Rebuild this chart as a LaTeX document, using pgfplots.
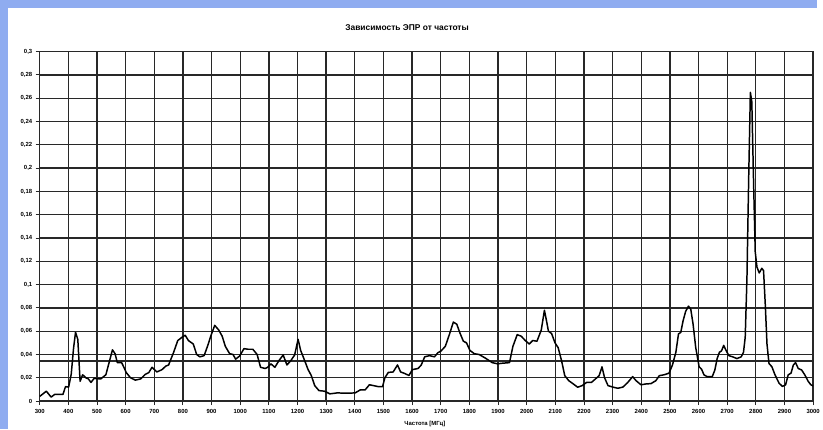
\documentclass[border=0pt]{standalone}
\usepackage{fontspec}
\setmainfont{Liberation Sans}
\usepackage{pgfplots}
\usepackage{pgfplotstable}
\pgfplotsset{compat=1.18}
\definecolor{bgblue}{RGB}{143,172,240}
\definecolor{gridc}{RGB}{40,40,40}
\pgfplotstableread{
f v
300 0.004
323 0.0085
340 0.0034
352 0.0057
381 0.0057
390 0.0124
401 0.012
410 0.023
418 0.045
425 0.059
433 0.053
441 0.017
450 0.0226
461 0.020
470 0.019
479 0.016
490 0.0195
513 0.019
531 0.0226
540 0.031
554 0.044
563 0.0407
571 0.033
586 0.033
594 0.029
602 0.0245
617 0.020
634 0.018
652 0.019
669 0.023
681 0.0245
692 0.029
709 0.025
727 0.027
740 0.030
750 0.031
767 0.0415
782 0.052
798 0.055
808 0.0565
819 0.052
836 0.049
848 0.040
859 0.038
874 0.039
888 0.0486
897 0.0557
911 0.065
925 0.061
937 0.0557
948 0.047
963 0.0407
975 0.040
984 0.036
998 0.0387
1013 0.045
1027 0.0445
1044 0.0445
1059 0.040
1071 0.029
1087 0.028
1096 0.029
1107 0.032
1121 0.029
1136 0.035
1150 0.0396
1163 0.031
1176 0.0345
1190 0.0396
1202 0.053
1211 0.0435
1223 0.036
1237 0.027
1248 0.022
1260 0.0133
1275 0.009
1294 0.0085
1313 0.0062
1338 0.007
1373 0.0068
1401 0.007
1419 0.0096
1436 0.0096
1451 0.014
1465 0.0133
1482 0.0124
1497 0.0124
1505 0.020
1517 0.0246
1534 0.025
1549 0.031
1560 0.025
1574 0.0237
1589 0.022
1601 0.027
1621 0.028
1632 0.031
1644 0.038
1661 0.039
1678 0.038
1690 0.0415
1701 0.043
1716 0.047
1730 0.057
1744 0.0678
1756 0.066
1767 0.0585
1779 0.0514
1790 0.050
1802 0.0435
1817 0.0407
1834 0.040
1857 0.0367
1880 0.033
1898 0.032
1915 0.0325
1940 0.033
1952 0.047
1967 0.057
1981 0.0557
1995 0.052
2009 0.049
2021 0.052
2036 0.0514
2051 0.061
2062 0.078
2070 0.068
2076 0.060
2087 0.058
2099 0.050
2110 0.0458
2122 0.0345
2133 0.0218
2147 0.0175
2163 0.0147
2178 0.0119
2194 0.0133
2209 0.016
2226 0.016
2240 0.019
2253 0.0218
2263 0.0294
2272 0.020
2284 0.0133
2301 0.012
2318 0.011
2336 0.012
2353 0.016
2370 0.021
2382 0.0175
2399 0.014
2416 0.0147
2434 0.015
2451 0.0175
2463 0.0218
2480 0.0226
2497 0.024
2509 0.031
2521 0.042
2530 0.0576
2538 0.059
2546 0.0688
2555 0.077
2565 0.0815
2573 0.0787
2581 0.066
2590 0.0463
2602 0.0295
2611 0.0272
2619 0.0225
2630 0.021
2648 0.021
2657 0.0267
2665 0.0365
2673 0.042
2680 0.043
2688 0.0478
2696 0.0435
2706 0.039
2719 0.038
2734 0.0365
2749 0.038
2757 0.042
2763 0.0548
2769 0.105
2775 0.19
2781 0.265
2786 0.257
2792 0.19
2798 0.128
2804 0.115
2812 0.11
2821 0.114
2827 0.112
2833 0.083
2839 0.049
2846 0.0323
2856 0.0295
2867 0.0225
2881 0.0154
2893 0.0126
2904 0.014
2913 0.0225
2923 0.024
2931 0.031
2939 0.033
2948 0.028
2960 0.0267
2971 0.0225
2983 0.0169
2992 0.014
3000 0.013
}\epr
\begin{document}
\begin{tikzpicture}[x=1bp,y=1bp]
\fill[bgblue] (0,0) rectangle (823,432);
\fill[white] (8,0) rectangle (823,424);
\begin{axis}[
  at={(40bp,28bp)}, anchor=south west, scale only axis,
  width=779bp, height=352bp,
  xmin=300, xmax=3000, ymin=0, ymax=0.3,
  xtick={300,400,...,3000},
  xticklabels={300,400,500,600,700,800,900,1000,1100,1200,1300,1400,1500,1600,1700,1800,1900,2000,2100,2200,2300,2400,2500,2600,2700,2800,2900,3000},
  ytick={0,0.02,0.04,0.06,0.08,0.1,0.12,0.14,0.16,0.18,0.2,0.22,0.24,0.26,0.28,0.3},
  yticklabels={0,{0,02},{0,04},{0,06},{0,08},{0,1},{0,12},{0,14},{0,16},{0,18},{0,2},{0,22},{0,24},{0,26},{0,28},{0,3}},
  ticklabel style={font=\bfseries\fontsize{6}{7}\selectfont},
  tick align=outside,
  major tick length=4bp,
  tick style={gridc, line width=0.9bp},
  xtick pos=bottom, ytick pos=left,
  xmajorgrids, ymajorgrids,
  grid style={gridc, line width=1.35bp},
  axis line style={gridc, line width=1.35bp},
  xticklabel style={yshift=-1bp},
]
\addplot[gridc, line width=1.35bp] coordinates {(300,0.0345) (3000,0.0345)};
\addplot[black, line width=1.5bp, line join=round] table[x=f, y=v] {\epr};
\end{axis}
\node[font=\bfseries\fontsize{8.5}{10}\selectfont] at (410,404) {Зависимость ЭПР от частоты};
\node[font=\bfseries\fontsize{6}{7}\selectfont] at (428,5) {Частота [МГц]};
\end{tikzpicture}
\end{document}
